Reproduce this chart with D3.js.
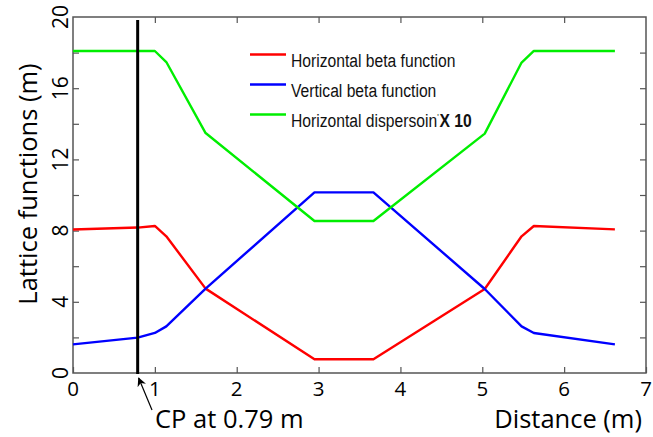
<!DOCTYPE html>
<html>
<head>
<meta charset="utf-8">
<script src="https://cdn.jsdelivr.net/npm/d3@7"></script>
<style>
  html, body { margin: 0; padding: 0; background: #fff; }
  svg { display: block; }
</style>
</head>
<body>
<svg id="chart" width="653" height="437"></svg>
<script>
// ---- data ----
const distance   = [0, 0.79, 1.0, 1.14, 1.62, 2.95, 3.67, 5.03, 5.48, 5.63, 6.62];
const betaX      = [8.06, 8.17, 8.26, 7.68, 4.74, 0.77, 0.77, 4.72, 7.68, 8.26, 8.07];
const betaY      = [1.61, 1.99, 2.25, 2.62, 4.74, 10.15, 10.15, 4.72, 2.62, 2.25, 1.61];
const dispX10    = [18.09, 18.09, 18.09, 17.47, 13.48, 8.54, 8.54, 13.45, 17.44, 18.09, 18.09];
const seriesNames = ["Horizontal beta function", "Vertical beta function", "Horizontal dispersoin"];
const seriesColors = ["#ff0000", "#0000ff", "#00ee00"];
const xTicks = [0, 1, 2, 3, 4, 5, 6, 7];
const yTicksMinor = [0, 2, 4, 6, 8, 10, 12, 14, 16, 18, 20];
const yTickLabels = [0, 4, 8, 12, 16, 20];
const cpPosition = 0.79;
const cpLabel = "CP at 0.79 m";
const xLabel = "Distance (m)";
const yLabel = "Lattice functions (m)";

// ---- layout ----
const svg = d3.select("#chart");
const L = 73, R = 646, T = 17, B = 373;
const x = d3.scaleLinear().domain([0, 7]).range([L, R]);
const y = d3.scaleLinear().domain([0, 20]).range([B, T]);
const calib = "'Open Sans', 'Lato', sans-serif";
const axisColor = "#555";

// ticks (inward) on all four sides
const tickLen = 6;
const g = svg.append("g");
g.append("g").attr("transform", `translate(0,${B})`)
  .call(d3.axisBottom(x).tickValues(xTicks).tickSizeInner(-tickLen).tickSizeOuter(0).tickFormat(""))
  .call(s => { s.select(".domain").remove(); s.selectAll("line").attr("stroke", axisColor).attr("stroke-width", 1.2); });
g.append("g").attr("transform", `translate(0,${T})`)
  .call(d3.axisTop(x).tickValues(xTicks.slice(1, -1)).tickSizeInner(-tickLen).tickSizeOuter(0).tickFormat(""))
  .call(s => { s.select(".domain").remove(); s.selectAll("line").attr("stroke", axisColor).attr("stroke-width", 1.2); });
g.append("g").attr("transform", `translate(${L},0)`)
  .call(d3.axisLeft(y).tickValues(yTicksMinor.slice(1, -1)).tickSizeInner(-tickLen).tickSizeOuter(0).tickFormat(""))
  .call(s => { s.select(".domain").remove(); s.selectAll("line").attr("stroke", axisColor).attr("stroke-width", 1.2); });
g.append("g").attr("transform", `translate(${R},0)`)
  .call(d3.axisRight(y).tickValues(yTicksMinor.slice(1, -1)).tickSizeInner(-tickLen).tickSizeOuter(0).tickFormat(""))
  .call(s => { s.select(".domain").remove(); s.selectAll("line").attr("stroke", axisColor).attr("stroke-width", 1.2); });

// box
svg.append("rect").attr("x", L).attr("y", T).attr("width", R - L).attr("height", B - T)
  .attr("fill", "none").attr("stroke", axisColor).attr("stroke-width", 1.5);

// x tick labels
svg.append("g").selectAll("text").data(xTicks).join("text")
  .attr("x", d => x(d)).attr("y", 396)
  .attr("text-anchor", "middle")
  .attr("font-family", calib).attr("font-size", 20.5).attr("fill", "#000")
  .text(d => d);

// y tick labels (rotated)
svg.append("g").selectAll("text").data(yTickLabels).join("text")
  .attr("transform", d => `translate(68,${y(d)}) rotate(-90)`)
  .attr("text-anchor", "middle")
  .attr("font-family", calib).attr("font-size", 21).attr("fill", "#000")
  .text(d => d);

// axis titles
svg.append("text").attr("x", 642).attr("y", 428).attr("text-anchor", "end")
  .attr("font-family", calib).attr("font-size", 25.5).attr("fill", "#000").text(xLabel);
svg.append("text").attr("transform", `translate(37,${184}) rotate(-90)`).attr("text-anchor", "middle")
  .attr("font-family", calib).attr("font-size", 25.5).attr("fill", "#000").text(yLabel);

// series
const series = [betaX, betaY, dispX10];
const line = d3.line().x(d => x(d[0])).y(d => y(d[1]));
series.forEach((vals, i) => {
  svg.append("path")
    .datum(distance.map((d, j) => [d, vals[j]]))
    .attr("d", line)
    .attr("fill", "none")
    .attr("stroke", seriesColors[i])
    .attr("stroke-width", 2.4)
    .attr("stroke-linejoin", "round");
});

// CP vertical line
svg.append("line").attr("x1", x(cpPosition)).attr("x2", x(cpPosition))
  .attr("y1", 20).attr("y2", B + 1)
  .attr("stroke", "#000").attr("stroke-width", 3);

// CP arrow and label
svg.append("defs").append("marker").attr("id", "arr")
  .attr("viewBox", "0 0 10 10").attr("refX", 9).attr("refY", 5)
  .attr("markerWidth", 9).attr("markerHeight", 9).attr("orient", "auto")
  .attr("markerUnits", "userSpaceOnUse")
  .append("path").attr("d", "M0,0 L10,5 L0,10 L3,5 Z").attr("fill", "#000");
svg.append("line").attr("x1", 152).attr("y1", 410).attr("x2", x(cpPosition) + 1).attr("y2", 378)
  .attr("stroke", "#000").attr("stroke-width", 1.2).attr("marker-end", "url(#arr)");
svg.append("text").attr("x", 155).attr("y", 428)
  .attr("font-family", calib).attr("font-size", 25.5).attr("fill", "#000").text(cpLabel);

// legend
const legend = svg.append("g");
seriesNames.forEach((name, i) => {
  const ly = 54.5 + i * 30;
  legend.append("line").attr("x1", 250).attr("x2", 286).attr("y1", ly).attr("y2", ly)
    .attr("stroke", seriesColors[i]).attr("stroke-width", 2.6);
  const t = legend.append("text")
    .attr("transform", `translate(291,${ly + 12.5}) scale(0.87,1)`)
    .attr("font-family", "'Liberation Sans', Arial, sans-serif").attr("font-size", 18).attr("fill", "#111")
    .text(name);
  if (i === 2) {
    t.append("tspan").attr("font-size", 9).attr("dy", -7).text("'");
    t.append("tspan").attr("font-weight", "bold").attr("dy", 7).attr("dx", 1).text("X 10");
  }
});
</script>
</body>
</html>
